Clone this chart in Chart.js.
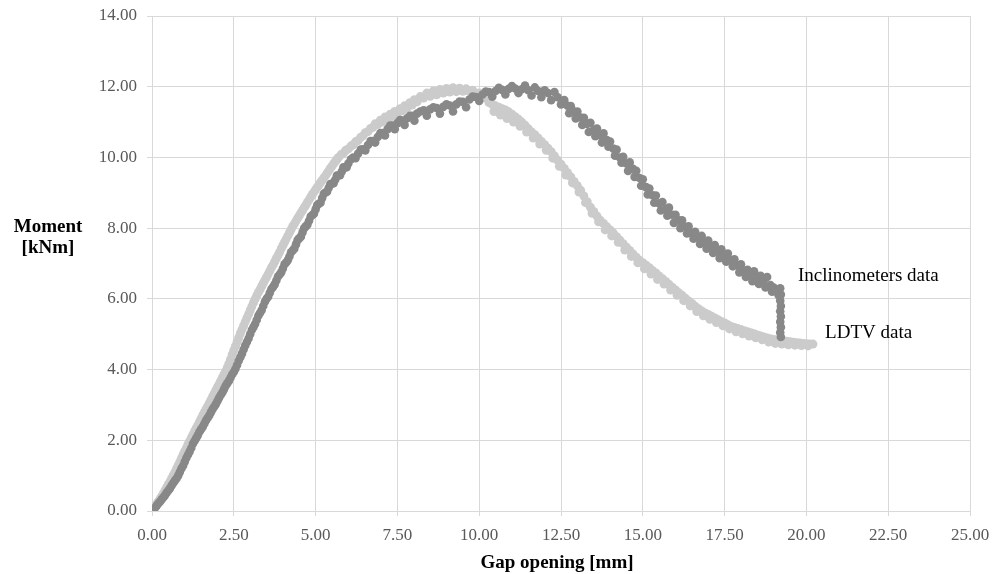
<!DOCTYPE html>
<html>
<head>
<meta charset="utf-8">
<title>Moment vs gap opening</title>
<script src="https://cdn.jsdelivr.net/npm/chart.js@4.4.1/dist/chart.umd.min.js"></script>
<style>
  html, body { margin: 0; padding: 0; background: #ffffff; }
  #wrap { width: 997px; height: 574px; }
</style>
</head>
<body>
<div id="wrap"><canvas id="chart" width="997" height="574"></canvas></div>
<script>
// x = gap opening [mm], y = moment [kNm]
const inclinometers = [
  [0,0],[0.05,0.04],[0.1,0.1],[0.15,0.16],[0.2,0.22],[0.25,0.27],[0.3,0.33],[0.35,0.39],[0.4,0.45],[0.45,0.52],
  [0.5,0.58],[0.55,0.64],[0.6,0.72],[0.65,0.79],[0.7,0.86],[0.75,0.92],[0.8,1.0],[0.85,1.1],[0.9,1.2],[0.95,1.28],
  [1.0,1.39],[1.05,1.5],[1.1,1.59],[1.15,1.68],[1.2,1.78],[1.25,1.9],[1.3,1.98],[1.35,2.06],[1.4,2.14],[1.45,2.24],
  [1.5,2.31],[1.55,2.38],[1.6,2.47],[1.65,2.56],[1.7,2.63],[1.75,2.7],[1.8,2.79],[1.85,2.88],[1.9,2.95],[1.95,3.02],
  [2.0,3.11],[2.05,3.2],[2.1,3.28],[2.15,3.35],[2.2,3.44],[2.25,3.54],[2.3,3.61],[2.35,3.68],[2.4,3.77],[2.45,3.86],
  [2.5,3.93],[2.55,4.02],[2.6,4.13],[2.65,4.25],[2.7,4.35],[2.75,4.45],[2.8,4.57],[2.85,4.68],[2.9,4.78],[2.95,4.88],
  [3.0,5.0],[3.05,5.12],[3.1,5.2],[3.15,5.29],[3.2,5.4],[3.25,5.52],[3.3,5.6],[3.35,5.68],[3.4,5.8],[3.45,5.92],
  [3.5,6.0],[3.55,6.06],[3.6,6.17],[3.65,6.28],[3.7,6.34],[3.75,6.41],[3.8,6.52],[3.85,6.63],[3.9,6.69],[3.95,6.75],
  [4.0,6.86],[4.05,6.98],[4.1,7.03],[4.15,7.09],[4.2,7.2],[4.25,7.32],[4.3,7.37],[4.35,7.42],[4.4,7.54],[4.45,7.66],
  [4.5,7.71],[4.55,7.76],[4.6,7.88],[4.65,8.0],[4.7,8.05],[4.75,8.1],[4.8,8.21],[4.85,8.33],[4.9,8.37],[4.95,8.41],
  [5.0,8.53],[5.05,8.65],[5.1,8.69],[5.15,8.72],[5.2,8.85],[5.25,8.97],[5.3,9.01],[5.35,9.03],[5.4,9.14],[5.45,9.25],
  [5.5,9.26],[5.55,9.27],[5.6,9.37],[5.65,9.49],[5.7,9.49],[5.75,9.5],[5.8,9.6],[5.85,9.72],[5.9,9.72],[5.95,9.72],
  [6.0,9.83],[6.08,9.95],[6.15,10.0],[6.22,9.98],[6.3,10.11],[6.38,10.22],[6.45,10.23],[6.52,10.2],[6.6,10.35],[6.68,10.46],
  [6.75,10.46],[6.82,10.42],[6.9,10.58],[6.98,10.69],[7.05,10.69],[7.12,10.62],[7.2,10.8],[7.28,10.9],[7.35,10.9],[7.42,10.8],
  [7.5,10.97],[7.58,11.06],[7.65,11.04],[7.72,10.92],[7.8,11.11],[7.88,11.18],[7.95,11.18],[8.02,11.04],[8.1,11.24],[8.2,11.3],
  [8.3,11.33],[8.4,11.18],[8.5,11.36],[8.6,11.42],[8.7,11.4],[8.8,11.24],[8.9,11.43],[9.0,11.5],[9.1,11.47],[9.2,11.3],
  [9.3,11.5],[9.4,11.58],[9.5,11.57],[9.6,11.42],[9.7,11.64],[9.8,11.72],[9.9,11.71],[10.0,11.6],[10.1,11.78],[10.2,11.86],
  [10.3,11.85],[10.4,11.72],[10.5,11.88],[10.6,11.97],[10.7,11.91],[10.8,11.78],[10.9,11.94],[11.0,12.02],[11.1,11.95],[11.2,11.82],
  [11.3,11.93],[11.4,12.03],[11.5,11.9],[11.6,11.75],[11.7,11.98],[11.8,11.88],[11.9,11.7],[12.0,11.9],[12.1,11.82],[12.2,11.62],
  [12.3,11.85],[12.4,11.7],[12.5,11.5],[12.6,11.62],[12.7,11.46],[12.75,11.25],[12.8,11.45],[12.9,11.3],[12.95,11.1],[13.0,11.3],
  [13.1,11.13],[13.15,10.92],[13.2,11.12],[13.3,10.95],[13.35,10.72],[13.4,10.98],[13.5,10.78],[13.55,10.6],[13.6,10.82],[13.7,10.63],
  [13.75,10.42],[13.8,10.68],[13.9,10.49],[13.95,10.3],[14.0,10.45],[14.1,10.25],[14.15,10.05],[14.2,10.22],[14.3,10.0],[14.35,9.85],
  [14.4,10.02],[14.5,9.83],[14.55,9.62],[14.6,9.86],[14.7,9.68],[14.75,9.45],[14.8,9.62],[14.9,9.42],[14.95,9.2],[15.0,9.38],
  [15.1,9.16],[15.15,8.95],[15.2,9.12],[15.3,8.93],[15.35,8.72],[15.4,8.92],[15.5,8.7],[15.55,8.5],[15.6,8.74],[15.7,8.54],
  [15.75,8.35],[15.8,8.58],[15.9,8.38],[15.95,8.15],[16.0,8.38],[16.1,8.22],[16.15,8.0],[16.2,8.22],[16.3,8.04],[16.35,7.85],
  [16.4,8.05],[16.5,7.86],[16.55,7.7],[16.6,7.9],[16.7,7.73],[16.75,7.55],[16.8,7.78],[16.9,7.59],[16.95,7.42],[17.0,7.65],
  [17.1,7.46],[17.15,7.3],[17.2,7.52],[17.3,7.34],[17.35,7.15],[17.4,7.4],[17.5,7.22],[17.55,7.05],[17.6,7.28],[17.7,7.1],
  [17.75,6.92],[17.8,7.12],[17.9,6.95],[17.95,6.75],[18.0,6.98],[18.1,6.8],[18.15,6.62],[18.2,6.82],[18.3,6.69],[18.35,6.5],
  [18.4,6.78],[18.5,6.61],[18.55,6.42],[18.6,6.65],[18.7,6.53],[18.75,6.32],[18.8,6.62],[18.9,6.39],[18.95,6.2],[19.0,6.32],
  [19.1,6.25],[19.15,6.1],[19.2,6.3],[19.22,6.12],[19.2,5.95],[19.22,5.8],[19.2,5.65],[19.22,5.5],[19.2,5.35],[19.22,5.2],
  [19.2,5.05],[19.22,4.92]
];

const ldtv = [
  [0,0],[0.05,0.07],[0.1,0.14],[0.15,0.21],[0.2,0.28],[0.25,0.35],[0.3,0.42],[0.35,0.5],[0.4,0.59],[0.45,0.67],
  [0.5,0.75],[0.55,0.83],[0.6,0.92],[0.65,1.01],[0.7,1.1],[0.75,1.2],[0.8,1.29],[0.85,1.39],[0.9,1.49],[0.95,1.59],
  [1.0,1.69],[1.05,1.78],[1.1,1.88],[1.15,1.97],[1.2,2.07],[1.25,2.16],[1.3,2.25],[1.35,2.34],[1.4,2.43],[1.45,2.52],
  [1.5,2.61],[1.55,2.7],[1.6,2.79],[1.65,2.88],[1.7,2.96],[1.75,3.05],[1.8,3.14],[1.85,3.23],[1.9,3.32],[1.95,3.41],
  [2.0,3.5],[2.05,3.59],[2.1,3.68],[2.15,3.77],[2.2,3.86],[2.25,3.95],[2.3,4.05],[2.35,4.17],[2.4,4.29],[2.45,4.42],
  [2.5,4.54],[2.55,4.66],[2.6,4.78],[2.65,4.9],[2.7,5.02],[2.75,5.13],[2.8,5.24],[2.85,5.35],[2.9,5.46],[2.95,5.56],
  [3.0,5.67],[3.05,5.78],[3.1,5.89],[3.15,5.99],[3.2,6.09],[3.25,6.18],[3.3,6.26],[3.35,6.35],[3.4,6.44],[3.45,6.53],
  [3.5,6.61],[3.55,6.7],[3.6,6.79],[3.65,6.88],[3.7,6.96],[3.75,7.05],[3.8,7.14],[3.85,7.23],[3.9,7.32],[3.95,7.42],
  [4.0,7.51],[4.05,7.6],[4.1,7.69],[4.15,7.78],[4.2,7.87],[4.25,7.96],[4.3,8.05],[4.35,8.12],[4.4,8.2],[4.45,8.28],
  [4.5,8.35],[4.55,8.43],[4.6,8.5],[4.65,8.58],[4.7,8.65],[4.75,8.73],[4.8,8.8],[4.85,8.88],[4.9,8.95],[4.95,9.02],
  [5.0,9.09],[5.05,9.16],[5.1,9.22],[5.15,9.29],[5.2,9.35],[5.25,9.42],[5.3,9.48],[5.35,9.55],[5.4,9.62],[5.45,9.69],
  [5.5,9.75],[5.55,9.82],[5.6,9.88],[5.65,9.94],[5.7,10.0],[5.78,10.08],[5.85,10.12],[5.92,10.2],[6.0,10.24],[6.08,10.32],
  [6.15,10.36],[6.22,10.44],[6.3,10.48],[6.38,10.57],[6.45,10.61],[6.52,10.7],[6.6,10.73],[6.68,10.82],[6.75,10.85],[6.82,10.95],
  [6.9,10.93],[6.98,11.05],[7.05,11.0],[7.12,11.14],[7.2,11.08],[7.28,11.22],[7.35,11.16],[7.42,11.3],[7.5,11.24],[7.58,11.38],
  [7.65,11.32],[7.72,11.46],[7.8,11.4],[7.88,11.55],[7.95,11.48],[8.02,11.63],[8.1,11.57],[8.2,11.72],[8.3,11.68],[8.4,11.82],
  [8.5,11.73],[8.6,11.88],[8.7,11.77],[8.8,11.92],[8.9,11.82],[9.0,11.95],[9.1,11.85],[9.2,11.97],[9.3,11.86],[9.4,11.96],
  [9.5,11.87],[9.6,11.94],[9.7,11.87],[9.8,11.9],[9.9,11.78],[10.0,11.82],[10.1,11.68],[10.2,11.72],[10.3,11.55],[10.4,11.5],
  [10.45,11.3],[10.5,11.46],[10.6,11.42],[10.65,11.2],[10.7,11.38],[10.8,11.34],[10.85,11.1],[10.9,11.29],[11.0,11.22],[11.05,11.0],
  [11.1,11.15],[11.2,11.08],[11.25,10.88],[11.3,11.0],[11.4,10.91],[11.45,10.72],[11.5,10.81],[11.6,10.72],[11.65,10.55],[11.7,10.64],
  [11.8,10.55],[11.85,10.38],[11.9,10.45],[12.0,10.36],[12.05,10.2],[12.1,10.26],[12.2,10.16],[12.25,9.98],[12.3,10.04],[12.4,9.92],
  [12.45,9.75],[12.5,9.81],[12.6,9.69],[12.65,9.5],[12.7,9.57],[12.8,9.45],[12.85,9.28],[12.9,9.32],[13.0,9.2],[13.05,9.02],
  [13.1,9.07],[13.2,8.91],[13.25,8.72],[13.3,8.75],[13.4,8.59],[13.45,8.42],[13.5,8.47],[13.6,8.34],[13.65,8.18],[13.7,8.22],
  [13.8,8.13],[13.85,7.95],[13.9,8.04],[14.0,7.95],[14.05,7.78],[14.1,7.86],[14.2,7.76],[14.25,7.6],[14.3,7.66],[14.4,7.56],
  [14.45,7.38],[14.5,7.46],[14.6,7.37],[14.65,7.2],[14.7,7.27],[14.8,7.18],[14.85,7.02],[14.9,7.09],[15.0,7.02],[15.05,6.85],
  [15.1,6.95],[15.2,6.88],[15.25,6.7],[15.3,6.8],[15.4,6.73],[15.45,6.55],[15.5,6.65],[15.6,6.57],[15.65,6.42],[15.7,6.49],
  [15.8,6.41],[15.85,6.25],[15.9,6.33],[16.0,6.25],[16.05,6.1],[16.1,6.17],[16.2,6.1],[16.25,5.95],[16.3,6.02],[16.4,5.94],
  [16.45,5.8],[16.5,5.87],[16.6,5.79],[16.65,5.64],[16.7,5.72],[16.8,5.66],[16.85,5.52],[16.9,5.6],[17.0,5.56],[17.05,5.42],
  [17.1,5.51],[17.2,5.46],[17.25,5.33],[17.3,5.41],[17.4,5.36],[17.45,5.24],[17.5,5.32],[17.6,5.27],[17.65,5.15],[17.7,5.22],
  [17.8,5.19],[17.85,5.07],[17.9,5.16],[18.0,5.13],[18.05,5.01],[18.1,5.1],[18.2,5.07],[18.25,4.95],[18.3,5.04],[18.4,5.01],
  [18.45,4.9],[18.5,4.98],[18.6,4.95],[18.65,4.84],[18.7,4.92],[18.8,4.89],[18.85,4.78],[18.9,4.87],[19.0,4.85],[19.05,4.74],
  [19.1,4.84],[19.2,4.82],[19.25,4.72],[19.3,4.81],[19.4,4.8],[19.45,4.7],[19.5,4.79],[19.6,4.77],[19.65,4.69],[19.7,4.76],
  [19.8,4.75],[19.85,4.68],[19.9,4.74],[20.0,4.73],[20.05,4.67],[20.1,4.72],[20.2,4.72]
];

const seriesNames = ['Inclinometers data', 'LDTV data'];
const xTitle = 'Gap opening [mm]';
const yTitle = ['Moment', '[kNm]'];

const toPoints = arr => arr.map(p => ({ x: p[0], y: p[1] }));

// axis titles and the in-plot series labels
const textPlugin = {
  id: 'texts',
  afterDraw(chart) {
    const { ctx, chartArea, scales } = chart;
    ctx.save();
    ctx.fillStyle = '#000000';
    ctx.font = 'bold 19px "Liberation Serif", "Times New Roman", serif';
    ctx.textAlign = 'center';
    ctx.textBaseline = 'middle';
    ctx.fillText(xTitle, (chartArea.left + chartArea.right) / 2 - 4, 563);
    ctx.fillText(yTitle[0], 48, 227);
    ctx.fillText(yTitle[1], 48, 248);

    ctx.font = '19px "Liberation Serif", "Times New Roman", serif';
    ctx.textAlign = 'left';
    ctx.fillText(seriesNames[0], scales.x.getPixelForValue(19.74), scales.y.getPixelForValue(6.64));
    ctx.fillText(seriesNames[1], scales.x.getPixelForValue(20.57), scales.y.getPixelForValue(5.03));
    ctx.restore();
  }
};

const bgPlugin = {
  id: 'bg',
  beforeDraw(chart) {
    const ctx = chart.ctx;
    ctx.save();
    ctx.fillStyle = '#ffffff';
    ctx.fillRect(0, 0, chart.width, chart.height);
    ctx.restore();
  }
};

const gridColor = '#d9d9d9';
const tickFont = { family: '"Liberation Serif", "Times New Roman", serif', size: 17 };

new Chart(document.getElementById('chart'), {
  type: 'scatter',
  data: {
    datasets: [
      {
        label: seriesNames[0],
        data: toPoints(inclinometers),
        backgroundColor: '#888888',
        borderWidth: 0,
        pointRadius: 4.3
      },
      {
        label: seriesNames[1],
        data: toPoints(ldtv),
        backgroundColor: '#cbcbcb',
        borderWidth: 0,
        pointRadius: 4.5
      }
    ]
  },
  options: {
    responsive: false,
    animation: false,
    devicePixelRatio: 1,
    layout: { padding: { top: 16, right: 27, left: 0, bottom: 0 } },
    plugins: {
      legend: { display: false },
      tooltip: { enabled: false }
    },
    scales: {
      x: {
        type: 'linear',
        min: 0,
        max: 25,
        afterFit: s => { s.height = 63; s.paddingLeft = 0; s.paddingRight = 0; },
        ticks: {
          stepSize: 2.5,
          color: '#595959',
          font: tickFont,
          padding: 9,
          maxRotation: 0,
          callback: v => v.toFixed(2)
        },
        grid: { color: gridColor, tickLength: 5, tickColor: gridColor },
        border: { color: gridColor }
      },
      y: {
        type: 'linear',
        min: 0,
        max: 14,
        afterFit: s => { s.width = 152; s.paddingTop = 0; s.paddingBottom = 0; },
        ticks: {
          stepSize: 2,
          color: '#595959',
          font: tickFont,
          padding: 10,
          callback: v => v.toFixed(2)
        },
        grid: { color: gridColor, tickLength: 5, tickColor: gridColor },
        border: { color: gridColor }
      }
    }
  },
  plugins: [bgPlugin, textPlugin]
});
</script>
</body>
</html>
